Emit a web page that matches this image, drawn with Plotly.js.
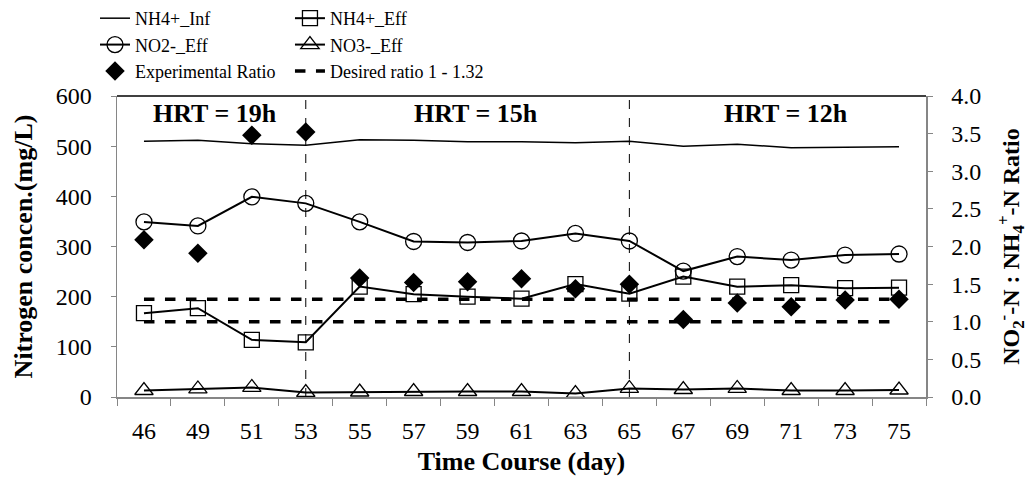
<!DOCTYPE html>
<html>
<head>
<meta charset="utf-8">
<script src="https://cdn.plot.ly/plotly-3.0.1.min.js"></script>
<style>html,body{margin:0;padding:0;background:#fff}#chart{width:1035px;height:479px}</style>
</head>
<body>
<div id="chart"></div>
<script>
// ---- data ----
const days = ["46","49","51","53","55","57","59","61","63","65","67","69","71","73","75"];
const nh4Inf = [510,512,505,502,513,512,509,509,507,510,500,504,497,498,499];
const nh4Eff = [167,177,114,109,220,205,200,196,225,206,240,220,223,217,218];
const no2Eff = [349,341,399,386,349,310,308,311,326,311,251,280,273,283,285];
const no3Eff = [13,16,19,9,10,11,11,11,7,17,15,17,13,13,14];
const expRatio = [2.09,1.91,3.48,3.52,1.58,1.52,1.53,1.57,1.44,1.50,1.03,1.25,1.20,1.29,1.30];
const desiredHigh = 1.3;
const desiredLow = 1.0;
const hrtLabels = ["HRT = 19h","HRT = 15h","HRT = 12h"];
const hrtBreaks = ["53","65"];

const FONT = "Liberation Serif";
const first = days[0], last = days[days.length-1];

const traces = [
  {x: days, y: nh4Inf, name: "NH4+_Inf", type: "scatter", mode: "lines",
   line: {color: "black", width: 1.5}, legend: "legend"},
  {x: days, y: no2Eff, name: "NO2-_Eff", type: "scatter", mode: "lines+markers",
   line: {color: "black", width: 2},
   marker: {symbol: "circle-open", size: 16, color: "black", line: {width: 1.3}}, legend: "legend"},
  {x: days, y: nh4Eff, name: "NH4+_Eff", type: "scatter", mode: "lines+markers",
   line: {color: "black", width: 2},
   marker: {symbol: "square-open", size: 15, color: "black", line: {width: 1.3}}, legend: "legend2"},
  {x: days, y: no3Eff, name: "NO3-_Eff", type: "scatter", mode: "lines+markers",
   line: {color: "black", width: 2},
   marker: {symbol: "triangle-up-open", size: 16, color: "black", line: {width: 1.3}}, legend: "legend2"},
  {x: [first, last, null, first, last], y: [desiredHigh, desiredHigh, null, desiredLow, desiredLow],
   name: "Desired ratio 1 - 1.32", type: "scatter", mode: "lines", yaxis: "y2",
   line: {color: "black", width: 3.5, dash: "dash"}, legend: "legend2"},
  {x: days, y: expRatio, name: "Experimental Ratio", type: "scatter", mode: "markers", yaxis: "y2",
   marker: {symbol: "diamond", size: 15, color: "black"}, legend: "legend"}
];

const shapes = hrtBreaks.map(d => ({type: "line", xref: "x", yref: "paper",
  x0: days.indexOf(d), x1: days.indexOf(d), y0: 0, y1: 1,
  line: {color: "black", width: 1, dash: "dash"}}));
shapes.push({type: "line", xref: "paper", yref: "paper", x0: 0, x1: 1, y0: 1, y1: 1,
  line: {color: "black", width: 1.5}});

const hrtX = [0.1211, 0.4438, 0.827];
const annotations = hrtLabels.map((t, i) => ({text: "<b>" + t + "</b>", xref: "paper", yref: "paper",
  x: hrtX[i], y: 0.9435, xanchor: "center", yanchor: "middle", showarrow: false,
  font: {family: FONT, size: 26, color: "black"}}));

const legendFont = {family: FONT, size: 18, color: "black"};

const layout = {
  width: 1035, height: 479,
  margin: {l: 117, r: 109, t: 96, b: 82, pad: 0, autoexpand: false},
  paper_bgcolor: "white", plot_bgcolor: "white",
  font: {family: FONT, color: "black", size: 24},
  showlegend: true,
  legend: {x: -0.0272, y: 1.319, xanchor: "left", yanchor: "top", bgcolor: "rgba(0,0,0,0)",
    font: legendFont, tracegroupgap: 0, traceorder: "normal"},
  legend2: {x: 0.2138, y: 1.319, xanchor: "left", yanchor: "top", bgcolor: "rgba(0,0,0,0)",
    font: legendFont, tracegroupgap: 0, traceorder: "normal"},
  xaxis: {type: "category", categoryorder: "array", categoryarray: days,
    range: [-0.5, days.length - 0.5], autorange: false,
    showline: true, linecolor: "#868686", linewidth: 1.5, showgrid: false, zeroline: false,
    ticks: "outside", tickson: "boundaries", ticklen: 7, tickcolor: "#868686", tickwidth: 1,
    tickangle: 0,
    tickfont: {family: FONT, size: 24, color: "black"}, ticklabelstandoff: 12,
    title: {text: "<b>Time Course (day)</b>", font: {family: FONT, size: 26, color: "black"}, standoff: 8}},
  yaxis: {range: [0, 600], dtick: 100, showline: true, linecolor: "#868686", linewidth: 1.5,
    showgrid: false, zeroline: false, ticks: "outside", ticklen: 5, tickcolor: "#868686",
    tickfont: {family: FONT, size: 24, color: "black"}, ticklabelstandoff: 14,
    title: {text: "<b>Nitrogen concen.(mg/L)</b>", font: {family: FONT, size: 26, color: "black"}, standoff: 15}},
  yaxis2: {range: [0, 4], dtick: 0.5, tickformat: ".1f", overlaying: "y", side: "right",
    showline: true, linecolor: "#868686", linewidth: 1.5, showgrid: false, zeroline: false,
    ticks: "outside", ticklen: 5, tickcolor: "#868686",
    tickfont: {family: FONT, size: 24, color: "black"}, ticklabelstandoff: 14,
    title: {text: "<b>NO<sub>2</sub><sup>-</sup>-N : NH<sub>4</sub><sup>+</sup>-N Ratio</b>",
      font: {family: FONT, size: 24, color: "black"}, standoff: 22}},
  shapes: shapes,
  annotations: annotations
};

Plotly.newPlot("chart", traces, layout, {displayModeBar: false, staticPlot: true});
</script>
</body>
</html>
